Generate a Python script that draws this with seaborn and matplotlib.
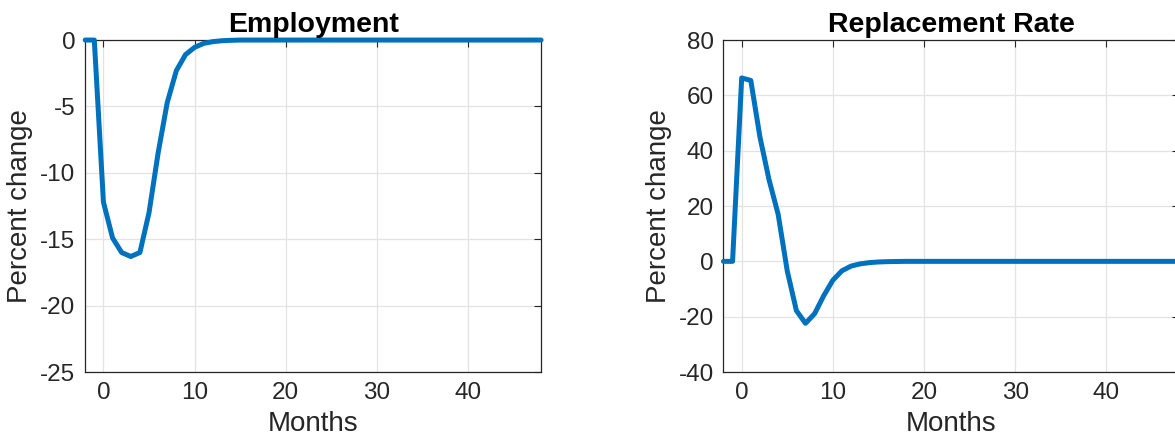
"""
Impulse responses: Employment and Replacement Rate
"""

import numpy as np
import pandas as pd
import matplotlib
matplotlib.use("Agg")
import matplotlib.pyplot as plt
import seaborn as sns

# --- data ---
MONTHS = list(range(-2, 49))

EMPLOYMENT = [
    0.0, 0.0, -12.2, -14.9, -16.0, -16.3, -16.0, -13.0, -8.5, -4.7,
    -2.3, -1.1, -0.55, -0.25, -0.12, -0.05, -0.02, 0.0, 0.0, 0.0,
    0.0, 0.0, 0.0, 0.0, 0.0, 0.0, 0.0, 0.0, 0.0, 0.0,
    0.0, 0.0, 0.0, 0.0, 0.0, 0.0, 0.0, 0.0, 0.0, 0.0,
    0.0, 0.0, 0.0, 0.0, 0.0, 0.0, 0.0, 0.0, 0.0, 0.0,
    0.0,
]

REPLACEMENT = [
    0.0, 0.0, 66.3, 65.4, 45.0, 29.5, 17.0, -3.5, -17.8, -22.4,
    -18.9, -12.4, -6.8, -3.4, -1.7, -0.9, -0.45, -0.22, -0.1, -0.05,
    0.0, 0.0, 0.0, 0.0, 0.0, 0.0, 0.0, 0.0, 0.0, 0.0,
    0.0, 0.0, 0.0, 0.0, 0.0, 0.0, 0.0, 0.0, 0.0, 0.0,
    0.0, 0.0, 0.0, 0.0, 0.0, 0.0, 0.0, 0.0, 0.0, 0.0,
    0.0,
]

EMP_TICKS = [-25, -20, -15, -10, -5, 0]
REP_TICKS = [-40, -20, 0, 20, 40, 60, 80]
X_TICKS = [0, 10, 20, 30, 40]

LINE_COLOR = "#0072BD"
TEXT_COLOR = "#262626"

sns.set_style("white")
plt.rcParams["font.family"] = ["Liberation Sans", "DejaVu Sans"]
plt.rcParams["axes.unicode_minus"] = False

df = pd.DataFrame({"month": MONTHS, "emp": EMPLOYMENT, "rep": REPLACEMENT})

fig = plt.figure(figsize=(11.75, 4.45), dpi=100)
ax_l = fig.add_axes([0.0725, 0.164, 0.388, 0.746])
ax_r = fig.add_axes([0.6157, 0.164, 0.388, 0.746])

panels = [
    (ax_l, "emp", "Employment", (-25, 0), EMP_TICKS),
    (ax_r, "rep", "Replacement Rate", (-40, 80), REP_TICKS),
]

for ax, col, title, ylim, yticks in panels:
    sns.lineplot(data=df, x="month", y=col, ax=ax, color=LINE_COLOR,
                 linewidth=3.6, zorder=3)
    for ln in ax.get_lines():
        ln.set_clip_on(False)
    ax.set_xlim(-2, 48)
    ax.set_ylim(*ylim)
    ax.set_xticks(X_TICKS)
    ax.set_yticks(yticks)
    ax.set_title(title, fontsize=20.5, fontweight="bold", color="black", pad=6)
    ax.set_xlabel("Months", fontsize=20, color=TEXT_COLOR, labelpad=5)
    ax.set_ylabel("Percent change", fontsize=20, color=TEXT_COLOR, labelpad=5)
    ax.tick_params(axis="both", direction="in", length=5, width=0.8,
                   labelsize=17.5, labelcolor=TEXT_COLOR, color=TEXT_COLOR,
                   top=True, right=True, pad=7)
    ax.grid(True, color="#e3e3e3", linewidth=0.9)
    ax.set_axisbelow(True)
    for side in ["top", "right", "bottom", "left"]:
        ax.spines[side].set_visible(True)
        ax.spines[side].set_color(TEXT_COLOR)
        ax.spines[side].set_linewidth(0.9)

fig.savefig("out.png", dpi=100)
plt.close(fig)
print("Gespeichert: out.png")
